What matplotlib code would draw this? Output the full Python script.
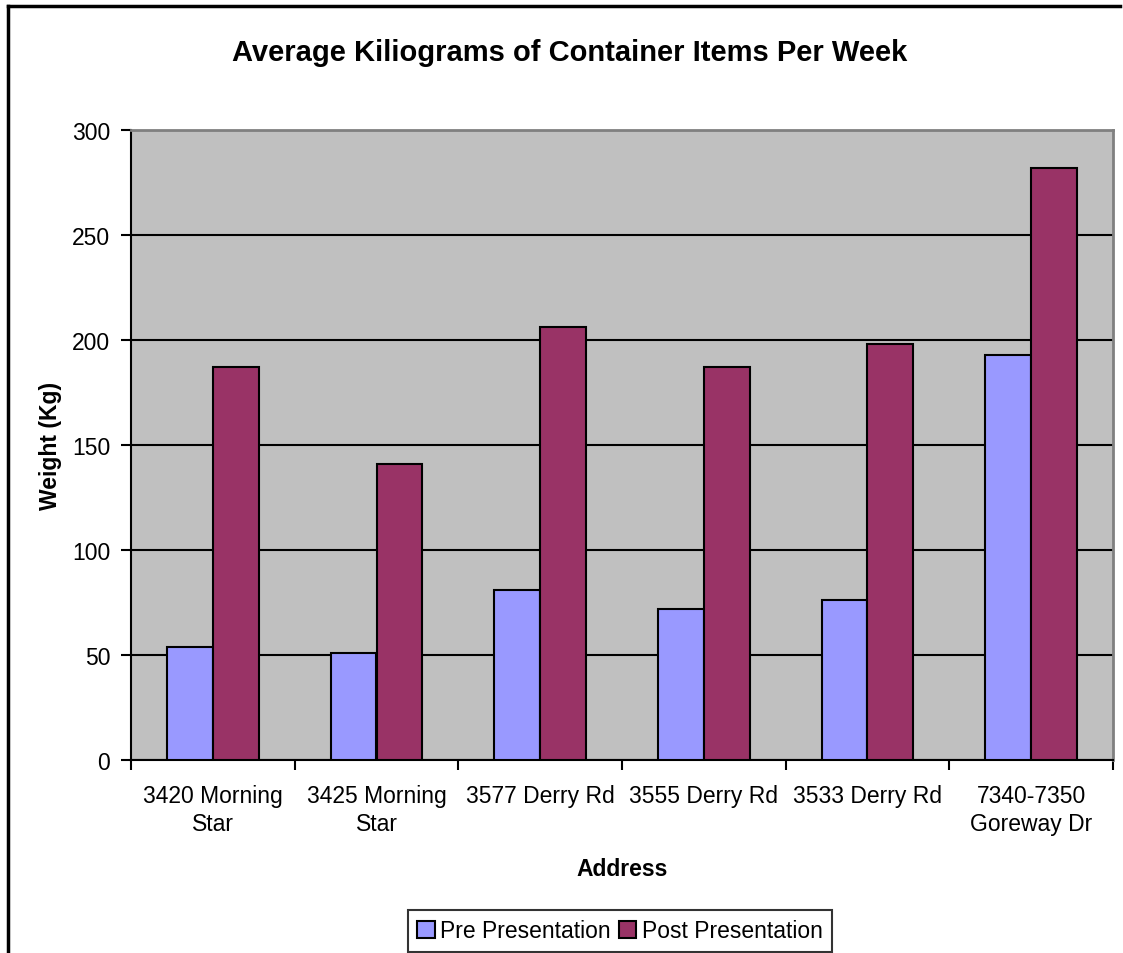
import matplotlib
matplotlib.use("Agg")
import matplotlib.pyplot as plt
import numpy as np
from matplotlib.lines import Line2D
from matplotlib.patches import Patch

categories = ["3420 Morning\nStar", "3425 Morning\nStar", "3577 Derry Rd",
              "3555 Derry Rd", "3533 Derry Rd", "7340-7350\nGoreway Dr"]
pre_values = [54, 51, 81, 72, 76, 193]
post_values = [187, 141, 206, 187, 198, 282]
series_names = ["Pre Presentation", "Post Presentation"]
y_ticks = [0, 50, 100, 150, 200, 250, 300]

plt.rcParams['font.family'] = ['Liberation Sans', 'DejaVu Sans']

W, H = 1123, 954
fig = plt.figure(figsize=(W / 100, H / 100), dpi=100)
fig.patch.set_facecolor("white")

ax = fig.add_axes([131 / W, (H - 761) / H, (1113 - 131) / W, (761 - 131) / H])
ax.set_facecolor("#C0C0C0")

FS = 16.5
x = np.arange(len(categories))
bw = 0.28
ax.bar(x - bw / 2, pre_values, bw, color="#9999FF", edgecolor="black", linewidth=1.5, zorder=3)
ax.bar(x + bw / 2, post_values, bw, color="#993366", edgecolor="black", linewidth=1.5, zorder=3)

ax.set_xlim(-0.5, len(categories) - 0.5)
ax.set_ylim(0, 300)
ax.set_yticks(y_ticks)
ax.set_yticklabels([str(t) for t in y_ticks], fontsize=FS)
ax.yaxis.grid(True, color="black", linewidth=1.5, zorder=1)
ax.set_axisbelow(True)

ax.set_xticks(np.arange(len(categories) + 1) - 0.5, minor=False)
ax.set_xticklabels([])
ax.set_xticks(x, minor=True)
ax.set_xticklabels(categories, minor=True, fontsize=FS, linespacing=1.3)
ax.tick_params(axis="x", which="minor", length=0, pad=17)
ax.tick_params(axis="x", which="major", length=7, width=1.5, direction="out")
ax.tick_params(axis="y", length=7, width=1.5, direction="out", pad=8)

for s in ["left", "bottom"]:
    ax.spines[s].set_color("black")
    ax.spines[s].set_linewidth(1.5)
for s in ["top", "right"]:
    ax.spines[s].set_color("#808080")
    ax.spines[s].set_linewidth(2)

ax.set_xlabel("Address", fontsize=FS, fontweight="bold", labelpad=16)
ax.set_ylabel("Weight (Kg)", fontsize=FS, fontweight="bold", labelpad=7)

fig.text(570 / W, 1 - 53 / H, "Average Kiliograms of Container Items Per Week",
         fontsize=21, fontweight="bold", ha="center", va="center")

# outer chart border (top and left visible)
fig.add_artist(Line2D([8 / W, 1120 / W], [1 - 7 / H, 1 - 7 / H], color="black", linewidth=2.5,
                      transform=fig.transFigure))
fig.add_artist(Line2D([8 / W, 8 / W], [1 - 7 / H, 0], color="black", linewidth=2.5,
                      transform=fig.transFigure))

handles = [Patch(facecolor="#9999FF", edgecolor="black", linewidth=1.5),
           Patch(facecolor="#993366", edgecolor="black", linewidth=1.5)]
leg = fig.legend(handles, series_names, loc="center", bbox_to_anchor=(620 / W, 1 - 932 / H),
                 ncol=2, fontsize=FS, frameon=True, fancybox=False, edgecolor="black",
                 handlelength=0.75, handleheight=0.75, handletextpad=0.25, columnspacing=0.35,
                 borderpad=0.4, borderaxespad=0)
leg.get_frame().set_linewidth(1.5)

fig.savefig("out.png", dpi=100)
